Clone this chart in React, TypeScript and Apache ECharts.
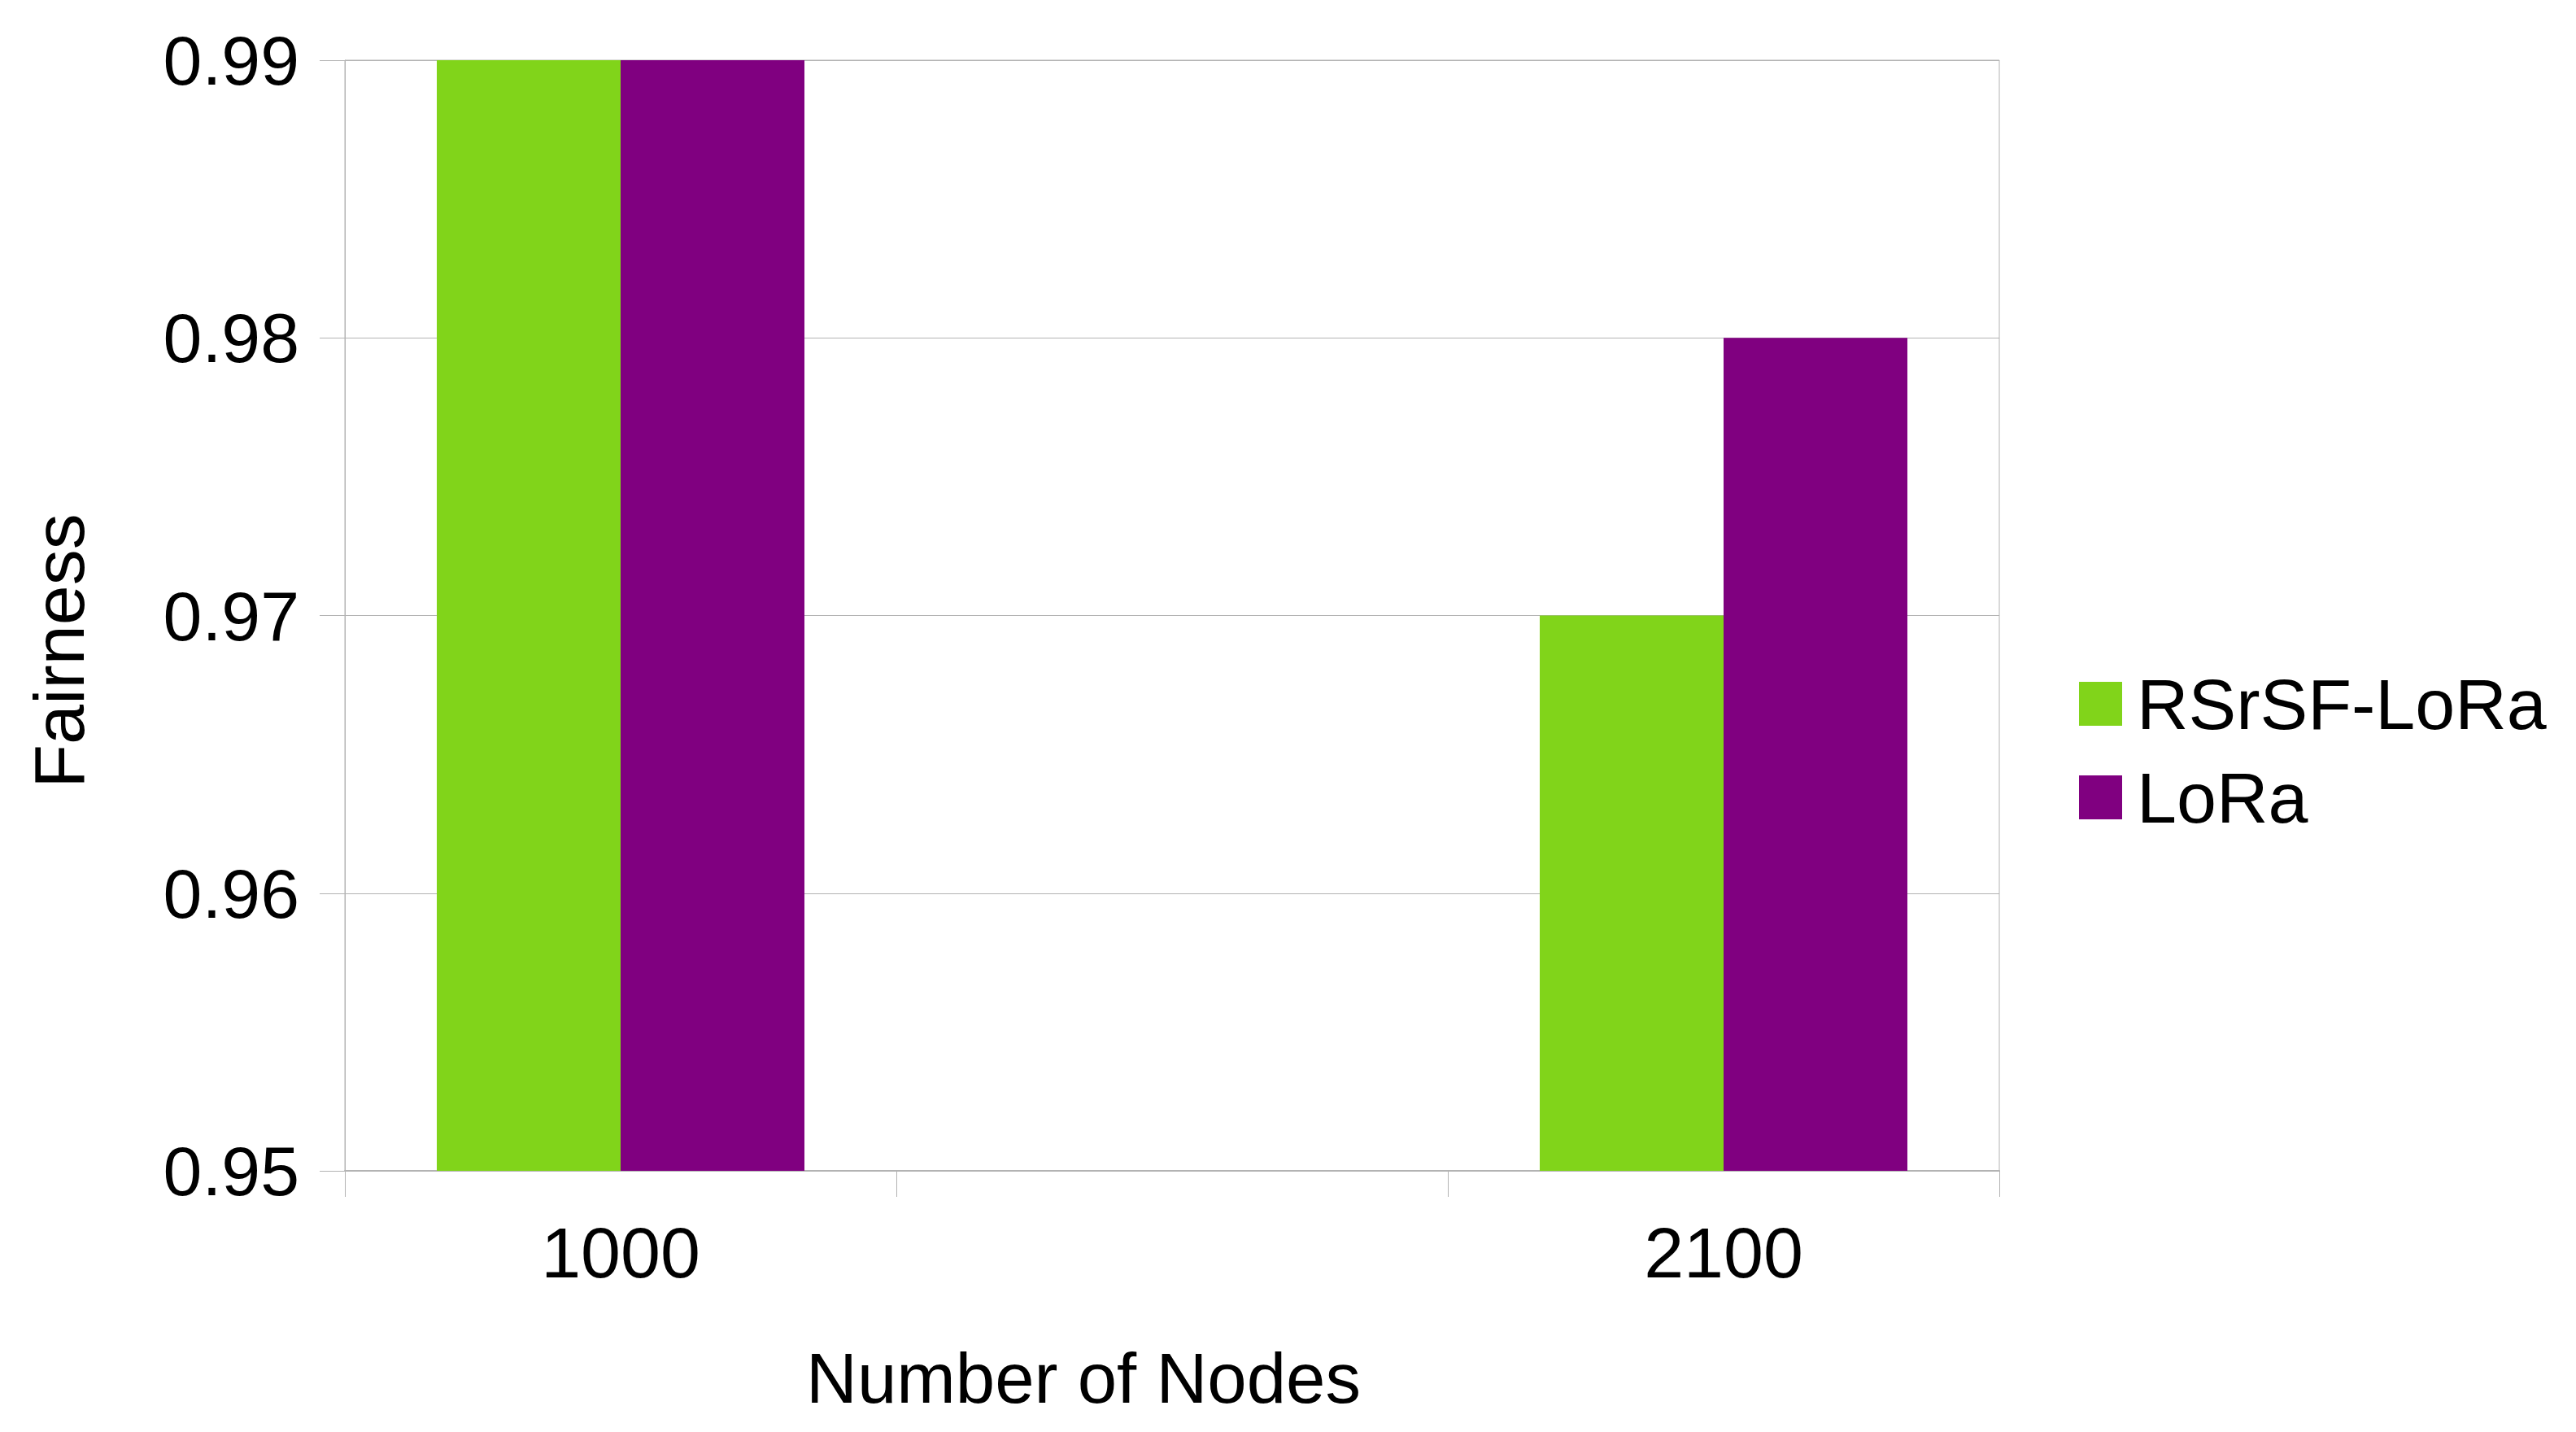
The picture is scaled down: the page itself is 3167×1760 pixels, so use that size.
import React, { useEffect, useRef } from "react";
import * as echarts from "echarts";

const categories = ["1000", "", "2100"];
const seriesNames = ["RSrSF-LoRa", "LoRa"];
const rsrsfValues = [0.99, null, 0.97];
const loraValues = [0.99, null, 0.98];
const seriesColors = ["#81d41a", "#800080"];
const xAxisTitle = "Number of Nodes";
const yAxisTitle = "Fairness";

const FONT = "'Liberation Sans', Arial, sans-serif";
const GRID = "#b3b3b3";

export default function App() {
  const ref = useRef<HTMLDivElement>(null);
  useEffect(() => {
    document.body.style.margin = "0";
    const chart = echarts.init(ref.current!, null, { renderer: "svg" });
    chart.setOption({
      animation: false,
      backgroundColor: "#ffffff",
      textStyle: { fontFamily: FONT, color: "#000" },
      grid: {
        left: 424,
        top: 74,
        width: 2034,
        height: 1365,
        show: true,
        borderColor: GRID,
        borderWidth: 1,
        containLabel: false,
      },
      legend: {
        orient: "vertical",
        left: 2551,
        top: 816,
        itemWidth: 53,
        itemHeight: 54,
        itemGap: 27,
        icon: "rect",
        data: seriesNames,
        textStyle: {
          fontFamily: FONT,
          fontSize: 88,
          color: "#000",
          lineHeight: 54,
          padding: [0, 0, 0, 13],
        },
      },
      xAxis: {
        type: "category",
        data: categories,
        name: xAxisTitle,
        nameLocation: "middle",
        nameGap: 211,
        nameTextStyle: {
          fontFamily: FONT,
          fontSize: 87,
          color: "#000",
          padding: [0, 218, 0, 0],
        },
        axisLine: { show: true, lineStyle: { color: GRID, width: 2 } },
        axisTick: { show: true, interval: 0, length: 32, lineStyle: { color: GRID, width: 1 } },
        axisLabel: { fontFamily: FONT, fontSize: 88, color: "#000", margin: 56, interval: 0 },
        splitLine: { show: false },
      },
      yAxis: {
        type: "value",
        min: 0.95,
        max: 0.99,
        interval: 0.01,
        name: yAxisTitle,
        nameLocation: "middle",
        nameGap: 308,
        nameTextStyle: {
          fontFamily: FONT,
          fontSize: 88,
          color: "#000",
          padding: [0, 87, 0, 0],
        },
        axisLine: { show: true, lineStyle: { color: GRID, width: 1 } },
        axisTick: { show: true, length: 31, lineStyle: { color: GRID, width: 1 } },
        axisLabel: {
          fontFamily: FONT,
          fontSize: 86,
          color: "#000",
          margin: 56,
          formatter: (v: number) => v.toFixed(2),
        },
        splitLine: { show: true, lineStyle: { color: GRID, width: 1 } },
      },
      series: [
        {
          name: seriesNames[0],
          type: "bar",
          data: rsrsfValues,
          itemStyle: { color: seriesColors[0] },
          barGap: "0%",
          barCategoryGap: "33.333%",
        },
        {
          name: seriesNames[1],
          type: "bar",
          data: loraValues,
          itemStyle: { color: seriesColors[1] },
          barGap: "0%",
          barCategoryGap: "33.333%",
        },
      ],
    });
    return () => chart.dispose();
  }, []);
  return <div ref={ref} style={{ width: 3167, height: 1760 }} />;
}
